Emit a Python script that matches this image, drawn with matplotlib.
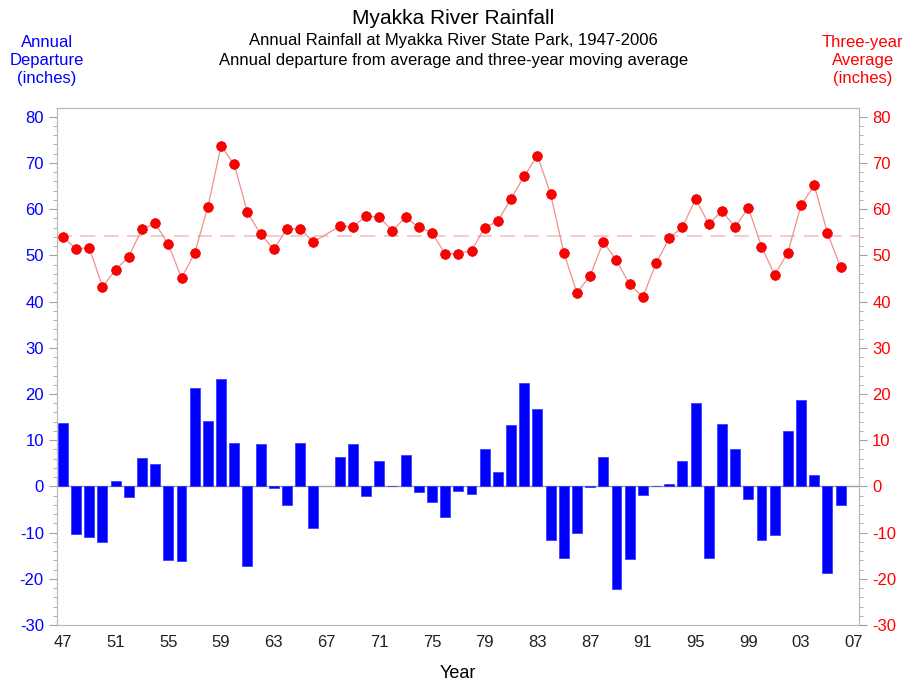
import matplotlib.pyplot as plt
import numpy as np

plt.rcParams['font.family'] = ['Liberation Sans', 'DejaVu Sans']
plt.rcParams['axes.unicode_minus'] = False

years = np.arange(1947, 2007)

# annual departure from average (inches); 1967 has no record
departure = [13.8, -10.2, -10.9, -12.0, 1.2, -2.4, 6.1, 4.8, -15.9, -16.2,
             21.3, 14.1, 23.3, 9.5, -17.3, 9.2, -0.4, -4.1, 9.5, -8.9,
             np.nan, 6.3, 9.1, -2.1, 5.5, 0.0, 6.9, -1.2, -3.4, -6.7,
             -1.1, -1.6, 8.2, 3.2, 13.3, 22.4, 16.7, -11.7, -15.4, -10.0,
             -0.1, 6.4, -22.1, -15.7, -1.8, 0.0, 0.6, 5.4, 18.1, -15.4,
             13.5, 8.0, -2.8, -11.7, -10.6, 12.0, 18.6, 2.5, -18.8, -4.1]

# three-year moving average (inches)
three_year = [54.0, 51.4, 51.7, 43.2, 46.9, 49.7, 55.7, 56.9, 52.4, 45.1,
              50.5, 60.5, 73.7, 69.7, 59.3, 54.6, 51.3, 55.7, 55.8, 52.9,
              np.nan, 56.3, 56.2, 58.5, 58.3, 55.3, 58.3, 56.1, 54.9, 50.3,
              50.4, 51.0, 56.0, 57.4, 62.3, 67.1, 71.6, 63.3, 50.6, 41.9,
              45.6, 52.9, 48.9, 43.7, 41.0, 48.3, 53.7, 56.1, 62.2, 56.8,
              59.6, 56.1, 60.3, 51.9, 45.8, 50.6, 60.8, 65.2, 54.9, 47.4]

long_term_avg = 54.3

x = years - 1900
dep = np.array(departure)
avg = np.array(three_year)
ok = ~np.isnan(avg)

fig = plt.figure(figsize=(9.07, 6.83), dpi=100)
ax = fig.add_axes([0.0628, 0.0849, 0.8843, 0.757])

ax.axhline(0, color='#a0a0a0', lw=1, zorder=1)
ax.bar(x[~np.isnan(dep)], dep[~np.isnan(dep)], width=0.75, color='#0000ff',
       edgecolor='#3030ff', lw=0.5, zorder=2)
ax.axhline(long_term_avg, color='#f4c0c8', lw=1.2, dashes=(9, 5), zorder=1)
ax.plot(x[ok], avg[ok], color='#f09090', lw=0.9, zorder=3)
ax.plot(x[ok], avg[ok], 'o', color='#ff0000', ms=7, mec='#e00000', mew=0.5, zorder=4)

ax.set_xlim(46.55, 107.4)
ax.set_ylim(-30, 81.9)
ax.set_xticks(np.arange(47, 108, 4))
ax.set_xticklabels([f"{v % 100:02d}" for v in range(47, 108, 4)])
ax.set_yticks(np.arange(-30, 81, 10))
ax.set_yticks(np.arange(-30, 81, 2), minor=True)
ax.tick_params(axis='x', length=0, labelsize=12, pad=7, colors='#202020')
ax.tick_params(axis='y', which='major', length=6, color='#a0a0a0',
               labelcolor='#0000ff', labelsize=12)
ax.tick_params(axis='y', which='minor', length=3, color='#a0a0a0')
for s in ax.spines.values():
    s.set_color('#b8b8b8')

ax2 = ax.twinx()
ax2.set_ylim(ax.get_ylim())
ax2.set_yticks(np.arange(-30, 81, 10))
ax2.set_yticks(np.arange(-30, 81, 2), minor=True)
ax2.tick_params(axis='y', which='major', length=6, color='#a0a0a0',
                labelcolor='#ff0000', labelsize=12)
ax2.tick_params(axis='y', which='minor', length=3, color='#a0a0a0')
for s in ax2.spines.values():
    s.set_color('#b8b8b8')

ax.set_xlabel("Year", fontsize=13, labelpad=11)

fig.text(0.5, 0.973, "Myakka River Rainfall", ha='center', va='center', fontsize=15)
fig.text(0.5, 0.941, "Annual Rainfall at Myakka River State Park, 1947-2006",
         ha='center', va='center', fontsize=12)
fig.text(0.5, 0.911, "Annual departure from average and three-year moving average",
         ha='center', va='center', fontsize=12)
fig.text(0.052, 0.912, "Annual\nDeparture\n(inches)", ha='center', va='center',
         fontsize=12, color='#0000ff', linespacing=1.25)
fig.text(0.951, 0.912, "Three-year\nAverage\n(inches)", ha='center', va='center',
         fontsize=12, color='#ff0000', linespacing=1.25)

fig.savefig("out.png", dpi=100)
